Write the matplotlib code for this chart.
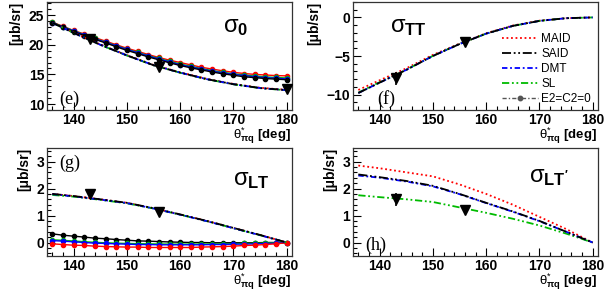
import matplotlib
matplotlib.use("Agg")
import matplotlib.pyplot as plt
from matplotlib.ticker import MultipleLocator
import numpy as np

plt.rcParams['font.family'] = ['Liberation Sans', 'DejaVu Sans']
plt.rcParams['mathtext.fontset'] = 'custom'
plt.rcParams['mathtext.rm'] = 'Liberation Sans'
plt.rcParams['mathtext.it'] = 'Liberation Sans:italic'
plt.rcParams['mathtext.bf'] = 'Liberation Sans:bold'

# ---------------- data ----------------
theta2 = [136, 138, 140, 142, 144, 146, 148, 150, 152, 154, 156, 158, 160,
          162, 164, 166, 168, 170, 172, 174, 176, 178, 180]
theta5 = [136, 140, 145, 150, 155, 160, 165, 170, 175, 180]

# sigma_0, E2=C2=0 curves (2-deg grid)
s0_nq_maid = [23.8, 23.1, 22.4, 21.8, 21.2, 20.6, 20.0, 19.4, 18.9, 18.35, 17.85, 17.4, 17.0,
              16.6, 16.2, 15.9, 15.6, 15.35, 15.15, 15.0, 14.9, 14.8, 14.75]
s0_nq_sl = [23.75, 23.05, 22.35, 21.7, 21.05, 20.45, 19.85, 19.25, 18.72, 18.18, 17.68, 17.2, 16.75,
            16.35, 15.98, 15.65, 15.35, 15.1, 14.9, 14.72, 14.58, 14.48, 14.4]
s0_nq_dmt = [23.7, 23.0, 22.3, 21.65, 21.0, 20.4, 19.8, 19.2, 18.65, 18.1, 17.6, 17.1, 16.65,
             16.25, 15.9, 15.55, 15.25, 15.0, 14.8, 14.6, 14.45, 14.35, 14.25]
s0_nq_said = [23.7, 22.95, 22.2, 21.55, 20.9, 20.3, 19.65, 19.05, 18.5, 17.95, 17.45, 16.95, 16.5,
              16.1, 15.75, 15.4, 15.1, 14.85, 14.6, 14.45, 14.3, 14.2, 14.1]
# sigma_0 full models (5-deg grid)
s0_maid = [23.75, 22.05, 20.05, 18.25, 16.6, 15.35, 14.25, 13.4, 12.75, 12.4]
s0_said = [23.7, 22.0, 20.0, 18.2, 16.55, 15.3, 14.2, 13.35, 12.7, 12.35]
s0_dmt = [23.7, 22.0, 20.0, 18.2, 16.55, 15.3, 14.2, 13.35, 12.7, 12.35]
s0_sl = [23.7, 21.98, 19.98, 18.18, 16.53, 15.28, 14.18, 13.33, 12.68, 12.33]
s0_x = [143, 156, 180]
s0_y = [21.0, 16.2, 12.5]
s0_e = [0.3, 0.3, 0.3]

# sigma_TT
stt_maid = [-9.4, -8.15, -6.6, -4.85, -3.4, -2.05, -1.05, -0.42, -0.1, 0.0]
stt_said = [-9.8, -8.45, -6.8, -5.0, -3.45, -2.1, -1.1, -0.45, -0.1, 0.0]
stt_dmt = [-9.8, -8.45, -6.8, -5.0, -3.45, -2.1, -1.1, -0.45, -0.1, 0.0]
stt_sl = [-9.75, -8.4, -6.78, -4.98, -3.44, -2.1, -1.1, -0.45, -0.1, 0.0]
stt_x = [143, 156]
stt_y = [-7.9, -3.2]
stt_e = [0.8, 0.3]

# sigma_LT full models (5-deg grid)
slt_maid = [1.80, 1.72, 1.60, 1.47, 1.27, 1.04, 0.80, 0.54, 0.28, 0.0]
slt_said = [1.80, 1.72, 1.60, 1.47, 1.27, 1.04, 0.80, 0.54, 0.28, 0.0]
slt_dmt = [1.79, 1.71, 1.59, 1.46, 1.26, 1.03, 0.79, 0.53, 0.27, 0.0]
slt_sl = [1.76, 1.70, 1.58, 1.45, 1.26, 1.03, 0.79, 0.53, 0.27, 0.0]
# sigma_LT, E2=C2=0 curves (2-deg grid)
slt_nq_said = [0.32, 0.27, 0.235, 0.2, 0.16, 0.14, 0.11, 0.085, 0.06, 0.05, 0.035, 0.02, 0.01,
               0.0, 0.0, -0.01, -0.01, -0.01, -0.01, -0.01, 0.0, 0.0, 0.0]
slt_nq_sl = [0.1, 0.08, 0.055, 0.03, 0.005, -0.01, -0.025, -0.035, -0.045, -0.05, -0.055, -0.06, -0.06,
             -0.06, -0.06, -0.055, -0.05, -0.045, -0.035, -0.03, -0.02, -0.01, 0.0]
slt_nq_dmt = [0.07, 0.05, 0.025, 0.0, -0.025, -0.035, -0.05, -0.06, -0.075, -0.075, -0.085, -0.085, -0.085,
              -0.085, -0.085, -0.075, -0.075, -0.06, -0.06, -0.05, -0.04, -0.025, 0.0]
slt_nq_maid = [-0.05, -0.075, -0.1, -0.11, -0.135, -0.15, -0.16, -0.17, -0.17, -0.185, -0.185, -0.185, -0.185,
               -0.185, -0.17, -0.16, -0.15, -0.135, -0.11, -0.1, -0.075, -0.05, -0.01]
slt_x = [143, 156]
slt_y = [1.80, 1.12]
slt_e = [0.08, 0.08]

# sigma_LT'
sltp_maid = [2.85, 2.75, 2.6, 2.45, 2.15, 1.8, 1.4, 0.95, 0.5, 0.0]
sltp_said = [2.52, 2.42, 2.28, 2.1, 1.8, 1.47, 1.15, 0.8, 0.4, 0.0]
sltp_dmt = [2.48, 2.4, 2.26, 2.08, 1.79, 1.46, 1.14, 0.79, 0.4, 0.0]
sltp_sl = [1.75, 1.68, 1.6, 1.5, 1.3, 1.1, 0.88, 0.63, 0.33, 0.0]
sltp_x = [143, 156]
sltp_y = [1.6, 1.22]
sltp_e = [0.25, 0.15]

models = ["MAID", "SAID", "DMT", "SL", "E2=C2=0"]

# ---------------- styles ----------------
RED = "#ff0000"
BLK = "#000000"
BLU = "#0000ff"
GRN = "#00bb00"
GRY = "#555555"
sty = {
    "MAID": dict(color=RED, dashes=(1, 1.5)),
    "SAID": dict(color=BLK, dashes=(5, 1.5, 1, 1.5, 1, 1.5)),
    "DMT": dict(color=BLU, dashes=(3, 1.5, 1, 1.5)),
    "SL": dict(color=GRN, dashes=(4, 1.5, 1, 1.5, 1, 1.5)),
}
LW = 1.3

W, H = 615, 293
fig = plt.figure(figsize=(W / 100, H / 100), dpi=100)


def mkax(x0, y0, x1, y1):
    return fig.add_axes([x0 / W, 1 - y1 / H, (x1 - x0) / W, (y1 - y0) / H])


axe = mkax(47, 2, 292, 110)
axf = mkax(353, 2, 598, 110)
axg = mkax(47, 148, 292, 256)
axh = mkax(353, 148, 598, 256)


def style_ax(ax, ylim, ymaj, ymin):
    ax.set_xlim(135, 181)
    ax.set_ylim(*ylim)
    ax.xaxis.set_major_locator(MultipleLocator(10))
    ax.xaxis.set_minor_locator(MultipleLocator(2))
    ax.yaxis.set_major_locator(MultipleLocator(ymaj))
    ax.yaxis.set_minor_locator(MultipleLocator(ymin))
    ax.tick_params(which='both', direction='in', top=False, right=False,
                   labelsize=10, width=0.8, pad=2)
    ax.tick_params(which='major', length=6)
    ax.tick_params(which='minor', length=3)
    for lab in ax.get_xticklabels() + ax.get_yticklabels():
        lab.set_fontweight('bold')
    for sp in ax.spines.values():
        sp.set_linewidth(0.9)
        sp.set_color('#333333')
    ax.text(0.995, -0.26, r'$\mathrm{\theta}^{*}_{\mathbf{\pi q}}$ [deg]', transform=ax.transAxes,
            ha='right', va='baseline', fontsize=9.5, fontweight='bold')
    ax.set_ylabel('[μb/sr]', loc='top', fontsize=10, fontweight='bold', labelpad=4)


def full(ax, x, m, y):
    ax.plot(x, y, lw=LW, **sty[m])


def nq(ax, x, color, y):
    ax.plot(x, y, color=color, lw=1.0, marker='o', ms=3.0, mec=color, mfc=color)


def pts(ax, x, y, e):
    ax.errorbar(x, y, yerr=e, fmt='v', color='black', ms=7, capsize=0, elinewidth=1.2, zorder=10)


# (e) sigma_0
nq(axe, theta2, RED, s0_nq_maid)
nq(axe, theta2, GRN, s0_nq_sl)
nq(axe, theta2, BLU, s0_nq_dmt)
nq(axe, theta2, BLK, s0_nq_said)
full(axe, theta5, "MAID", s0_maid)
full(axe, theta5, "SL", s0_sl)
full(axe, theta5, "DMT", s0_dmt)
full(axe, theta5, "SAID", s0_said)
pts(axe, s0_x, s0_y, s0_e)
style_ax(axe, (9, 27.2), 5, 1)
axe.text(0.72, 0.72, r'$\mathrm{\sigma}_{\mathbf{0}}$', transform=axe.transAxes, fontsize=17)
axe.text(0.05, 0.06, '(e)', transform=axe.transAxes, fontsize=13, family='Liberation Serif')

# (f) sigma_TT
full(axf, theta5, "MAID", stt_maid)
full(axf, theta5, "SL", stt_sl)
full(axf, theta5, "DMT", stt_dmt)
full(axf, theta5, "SAID", stt_said)
pts(axf, stt_x, stt_y, stt_e)
style_ax(axf, (-12, 2), 5, 1)
axf.text(0.15, 0.72, r'$\mathrm{\sigma}_{\mathbf{TT}}$', transform=axf.transAxes, fontsize=17)
axf.text(0.1, 0.06, '(f)', transform=axf.transAxes, fontsize=13, family='Liberation Serif')

# legend
leg_handles = []
for m in ["MAID", "SAID", "DMT", "SL"]:
    h, = axf.plot([], [], lw=LW, **sty[m])
    leg_handles.append(h)
h, = axf.plot([], [], color=GRY, lw=1.0, dashes=(3, 1.5, 1, 1.5), marker='o', ms=3.2)
leg_handles.append(h)
axf.legend(leg_handles, models, loc='upper left', bbox_to_anchor=(0.61, 0.71),
           frameon=False, fontsize=8.5, handlelength=3.0, handletextpad=0.3,
           labelspacing=0.25, borderpad=0, borderaxespad=0, numpoints=1)

# (g) sigma_LT
nq(axg, theta2, BLK, slt_nq_said)
nq(axg, theta2, GRN, slt_nq_sl)
nq(axg, theta2, BLU, slt_nq_dmt)
nq(axg, theta2, RED, slt_nq_maid)
full(axg, theta5, "MAID", slt_maid)
full(axg, theta5, "SL", slt_sl)
full(axg, theta5, "DMT", slt_dmt)
full(axg, theta5, "SAID", slt_said)
pts(axg, slt_x, slt_y, slt_e)
style_ax(axg, (-0.5, 3.5), 1, 0.2)
axg.text(0.76, 0.66, r'$\mathrm{\sigma}_{\mathbf{LT}}$', transform=axg.transAxes, fontsize=17)
axg.text(0.05, 0.82, '(g)', transform=axg.transAxes, fontsize=13, family='Liberation Serif')

# (h) sigma_LT'
full(axh, theta5, "MAID", sltp_maid)
full(axh, theta5, "SL", sltp_sl)
full(axh, theta5, "DMT", sltp_dmt)
full(axh, theta5, "SAID", sltp_said)
pts(axh, sltp_x, sltp_y, sltp_e)
style_ax(axh, (-0.5, 3.5), 1, 0.2)
axh.text(0.72, 0.68, r"$\mathrm{\sigma}_{\mathbf{LT'}}$", transform=axh.transAxes, fontsize=17)
axh.text(0.05, 0.06, '(h)', transform=axh.transAxes, fontsize=13, family='Liberation Serif')

fig.savefig("out.png", dpi=100)
